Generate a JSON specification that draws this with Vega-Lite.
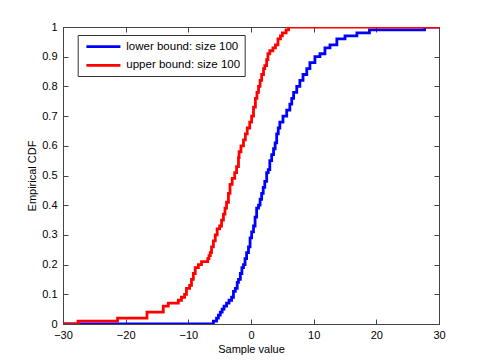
{
  "$schema": "https://vega.github.io/schema/vega-lite/v6.json",
  "autosize": {"type": "none"},
  "width": 376,
  "height": 297,
  "padding": {"left": 63, "top": 27, "right": 46, "bottom": 40},
  "background": "white",
  "config": {
    "font": "Liberation Sans",
    "view": {"stroke": "#444", "strokeWidth": 1},
    "axis": {
      "grid": false,
      "domainColor": "#444",
      "tickColor": "#444",
      "tickSize": -5,
      "labelFlush": false,
      "labelColor": "black",
      "labelFontSize": 11,
      "titleFontSize": 11,
      "titleFontWeight": "normal",
      "titleColor": "black",
      "labelFont": "Liberation Sans",
      "titleFont": "Liberation Sans"
    },
    "legend": {
      "labelFont": "Liberation Sans",
      "labelFontSize": 11.5,
      "labelColor": "black"
    }
  },
  "datasets": {
    "lower": [
      {"x": -30, "y": 0}, {"x": -6.0, "y": 0.01}, {"x": -5.5, "y": 0.02}, {"x": -5.2, "y": 0.03},
      {"x": -4.9, "y": 0.04}, {"x": -4.6, "y": 0.05}, {"x": -4.3, "y": 0.06}, {"x": -3.9, "y": 0.07},
      {"x": -3.5, "y": 0.08}, {"x": -3.1, "y": 0.09}, {"x": -2.8, "y": 0.11}, {"x": -2.5, "y": 0.12},
      {"x": -2.2, "y": 0.14}, {"x": -2.0, "y": 0.15}, {"x": -1.7, "y": 0.17}, {"x": -1.45, "y": 0.19},
      {"x": -1.2, "y": 0.2}, {"x": -0.95, "y": 0.22}, {"x": -0.7, "y": 0.24}, {"x": -0.4, "y": 0.26},
      {"x": -0.15, "y": 0.29}, {"x": 0.1, "y": 0.31}, {"x": 0.4, "y": 0.33}, {"x": 0.65, "y": 0.36},
      {"x": 0.9, "y": 0.39}, {"x": 1.2, "y": 0.4}, {"x": 1.45, "y": 0.42}, {"x": 1.7, "y": 0.44},
      {"x": 1.95, "y": 0.46}, {"x": 2.2, "y": 0.48}, {"x": 2.5, "y": 0.51}, {"x": 2.75, "y": 0.52},
      {"x": 3.0, "y": 0.55}, {"x": 3.3, "y": 0.57}, {"x": 3.6, "y": 0.59}, {"x": 3.85, "y": 0.61},
      {"x": 4.1, "y": 0.64}, {"x": 4.35, "y": 0.66}, {"x": 4.6, "y": 0.68}, {"x": 5.1, "y": 0.7},
      {"x": 5.7, "y": 0.72}, {"x": 6.2, "y": 0.74}, {"x": 6.5, "y": 0.76}, {"x": 6.8, "y": 0.78},
      {"x": 7.3, "y": 0.8}, {"x": 7.8, "y": 0.82}, {"x": 8.3, "y": 0.84}, {"x": 8.9, "y": 0.86},
      {"x": 9.4, "y": 0.88}, {"x": 10.2, "y": 0.9}, {"x": 11.0, "y": 0.91}, {"x": 11.8, "y": 0.93},
      {"x": 12.6, "y": 0.94}, {"x": 13.7, "y": 0.96}, {"x": 15.0, "y": 0.97}, {"x": 16.9, "y": 0.98},
      {"x": 18.9, "y": 0.99}, {"x": 27.7, "y": 1.0}, {"x": 30, "y": 1.0}
    ],
    "upper": [
      {"x": -30, "y": 0}, {"x": -27.6, "y": 0.01}, {"x": -21.3, "y": 0.02}, {"x": -16.6, "y": 0.04},
      {"x": -14.0, "y": 0.06}, {"x": -13.2, "y": 0.07}, {"x": -11.6, "y": 0.08}, {"x": -11.1, "y": 0.09},
      {"x": -10.6, "y": 0.1}, {"x": -10.3, "y": 0.12}, {"x": -9.8, "y": 0.13}, {"x": -9.5, "y": 0.15},
      {"x": -9.2, "y": 0.17}, {"x": -8.9, "y": 0.19}, {"x": -8.4, "y": 0.2}, {"x": -7.9, "y": 0.21},
      {"x": -6.9, "y": 0.22}, {"x": -6.7, "y": 0.23}, {"x": -6.5, "y": 0.24}, {"x": -6.3, "y": 0.26},
      {"x": -6.0, "y": 0.28}, {"x": -5.7, "y": 0.3}, {"x": -5.4, "y": 0.32}, {"x": -5.0, "y": 0.33},
      {"x": -4.7, "y": 0.35}, {"x": -4.4, "y": 0.37}, {"x": -4.15, "y": 0.39}, {"x": -3.9, "y": 0.41},
      {"x": -3.6, "y": 0.44}, {"x": -3.35, "y": 0.47}, {"x": -3.0, "y": 0.49}, {"x": -2.6, "y": 0.51},
      {"x": -2.3, "y": 0.53}, {"x": -2.0, "y": 0.56}, {"x": -1.9, "y": 0.58}, {"x": -1.6, "y": 0.6},
      {"x": -1.2, "y": 0.62}, {"x": -0.9, "y": 0.64}, {"x": -0.6, "y": 0.66}, {"x": -0.2, "y": 0.68},
      {"x": 0.1, "y": 0.7}, {"x": 0.4, "y": 0.73}, {"x": 0.7, "y": 0.76}, {"x": 0.95, "y": 0.78},
      {"x": 1.2, "y": 0.8}, {"x": 1.45, "y": 0.82}, {"x": 1.7, "y": 0.84}, {"x": 2.0, "y": 0.86},
      {"x": 2.2, "y": 0.87}, {"x": 2.5, "y": 0.89}, {"x": 2.7, "y": 0.91}, {"x": 3.0, "y": 0.92},
      {"x": 3.5, "y": 0.93}, {"x": 3.9, "y": 0.94}, {"x": 4.3, "y": 0.96}, {"x": 4.7, "y": 0.97},
      {"x": 5.0, "y": 0.98}, {"x": 5.6, "y": 0.99}, {"x": 6.0, "y": 1.0}, {"x": 30, "y": 1.0}
    ]
  },
  "layer": [
    {
      "data": {"name": "lower"},
      "transform": [{"calculate": "'lower bound: size 100'", "as": "s"}],
      "mark": {"type": "line", "interpolate": "step-after", "strokeWidth": 2.8, "clip": true},
      "encoding": {
        "x": {
          "field": "x", "type": "quantitative",
          "scale": {"domain": [-30, 30], "nice": false, "zero": false},
          "axis": {"values": [-30, -20, -10, 0, 10, 20, 30], "title": "Sample value", "labelPadding": 10, "titlePadding": 3}
        },
        "y": {
          "field": "y", "type": "quantitative",
          "scale": {"domain": [0, 1], "nice": false},
          "axis": {"values": [0, 0.1, 0.2, 0.3, 0.4, 0.5, 0.6, 0.7, 0.8, 0.9, 1], "format": "~g", "title": "Empirical CDF", "labelPadding": 11, "titlePadding": 4}
        },
        "color": {
          "field": "s", "type": "nominal",
          "scale": {"domain": ["lower bound: size 100", "upper bound: size 100"], "range": ["#0000FF", "#FF0000"]},
          "legend": {
            "title": null,
            "orient": "none",
            "legendX": 14.7,
            "legendY": 8,
            "direction": "vertical",
            "strokeColor": "#333",
            "fillColor": "white",
            "padding": 4.2,
            "rowPadding": 4.7,
            "symbolType": "M-0.5,0H5.17",
            "symbolSize": 144,
            "symbolStrokeWidth": 2.8,
            "labelOffset": 29.4
          }
        }
      }
    },
    {
      "data": {"name": "upper"},
      "transform": [{"calculate": "'upper bound: size 100'", "as": "s"}],
      "mark": {"type": "line", "interpolate": "step-after", "strokeWidth": 2.8, "clip": true},
      "encoding": {
        "x": {"field": "x", "type": "quantitative", "axis": null},
        "y": {"field": "y", "type": "quantitative", "axis": null},
        "color": {"field": "s", "type": "nominal"}
      }
    },
    {
      "data": {"name": "upper"},
      "mark": {"type": "line", "strokeOpacity": 0},
      "encoding": {
        "x": {"field": "x", "type": "quantitative", "axis": {"orient": "top", "labels": false, "title": null, "values": [-30, -20, -10, 0, 10, 20, 30]}},
        "y": {"field": "y", "type": "quantitative", "axis": {"orient": "right", "labels": false, "title": null, "values": [0, 0.1, 0.2, 0.3, 0.4, 0.5, 0.6, 0.7, 0.8, 0.9, 1]}}
      }
    }
  ],
  "resolve": {"axis": {"x": "independent", "y": "independent"}}
}
